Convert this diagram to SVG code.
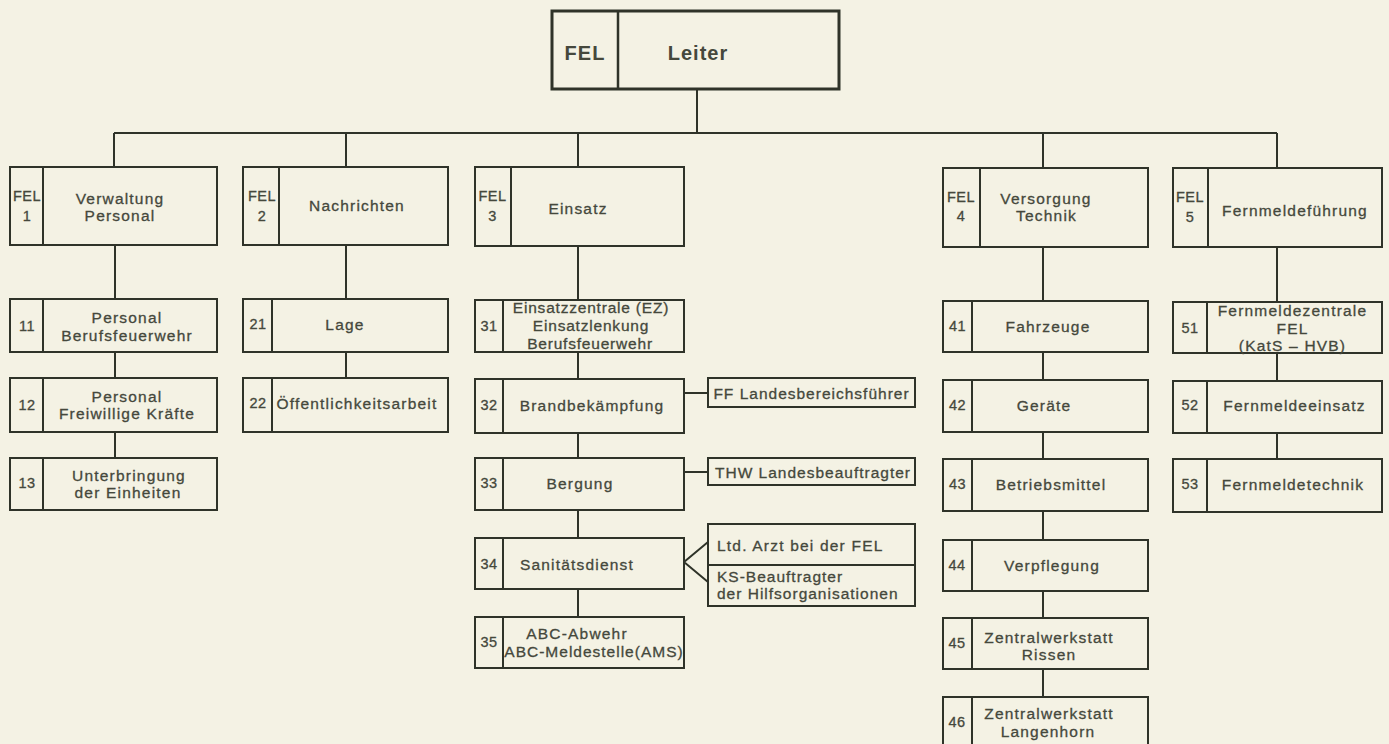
<svg xmlns="http://www.w3.org/2000/svg" width="1389" height="744" viewBox="0 0 1389 744">
<style>
.bg{fill:#f4f2e4}
.b{fill:none;stroke:#2f3329;stroke-width:2}
.bt{fill:none;stroke:#2f3329;stroke-width:3}
.d{stroke:#2f3329;stroke-width:2}
.c{fill:none;stroke:#2f3329;stroke-width:2}
text{font-family:"Liberation Sans",Arial,sans-serif;fill:#45483c;stroke:#45483c;stroke-width:0.3px}
.t{font-size:15.5px;letter-spacing:1.2px;text-anchor:middle}
.tl{font-size:15.5px;letter-spacing:1.2px}
.n{font-size:14.5px;letter-spacing:0.4px;text-anchor:middle}
.h{font-size:20px;font-weight:bold;letter-spacing:1px;text-anchor:middle;stroke-width:0}
</style>
<rect class="bg" x="0" y="0" width="1389" height="744"/>

<g id="connectors">
<path class="c" d="M697 89V133M114 133H1277M114 133V167M346 133V167M578 133V167M1043 133V168M1277 133V168"/>
<path class="c" d="M115 245V299M115 352V378M115 432V458"/>
<path class="c" d="M346 245V299M346 352V378"/>
<path class="c" d="M578 246V300M578 352V379M578 433V458M578 510V538M578 589V617"/>
<path class="c" d="M684 393H708M684 472H708M684 562L708 542M684 562L708 582"/>
<path class="c" d="M1043 247V301M1043 352V380M1043 432V459M1043 511V540M1043 591V618M1043 669V697"/>
<path class="c" d="M1277 247V302M1277 353V381M1277 433V459"/>
</g>

<g id="leiter">
<rect class="bt" x="552" y="11" width="287" height="78"/>
<line class="d" x1="618" y1="11" x2="618" y2="89" style="stroke-width:2.5"/>
<text class="h" x="585" y="60">FEL</text>
<text class="h" x="698" y="60">Leiter</text>
</g>

<g id="fel1">
<rect class="b" x="10" y="167" width="207" height="78"/>
<line class="d" x1="43" y1="167" x2="43" y2="245"/>
<text class="n" x="27" y="200.5">FEL</text>
<text class="n" x="27" y="220.5">1</text>
<text class="t" x="120" y="203.5">Verwaltung</text>
<text class="t" x="120" y="220.5">Personal</text>
</g>
<g id="n11">
<rect class="b" x="10" y="299" width="207" height="53"/>
<line class="d" x1="43" y1="299" x2="43" y2="352"/>
<text class="n" x="27" y="331">11</text>
<text class="t" x="127" y="322.5">Personal</text>
<text class="t" x="127" y="340.5">Berufsfeuerwehr</text>
</g>
<g id="n12">
<rect class="b" x="10" y="378" width="207" height="54"/>
<line class="d" x1="43" y1="378" x2="43" y2="432"/>
<text class="n" x="27" y="410">12</text>
<text class="t" x="127" y="401.5">Personal</text>
<text class="t" x="127" y="418.5">Freiwillige Kräfte</text>
</g>
<g id="n13">
<rect class="b" x="10" y="458" width="207" height="52"/>
<line class="d" x1="43" y1="458" x2="43" y2="510"/>
<text class="n" x="27" y="488">13</text>
<text class="t" x="129" y="480.5">Unterbringung</text>
<text class="t" x="128" y="497.5">der Einheiten</text>
</g>

<g id="fel2">
<rect class="b" x="243" y="167" width="205" height="78"/>
<line class="d" x1="279" y1="167" x2="279" y2="245"/>
<text class="n" x="262" y="200.5">FEL</text>
<text class="n" x="262" y="221">2</text>
<text class="t" x="357" y="210.5">Nachrichten</text>
</g>
<g id="n21">
<rect class="b" x="243" y="299" width="205" height="53"/>
<line class="d" x1="272" y1="299" x2="272" y2="352"/>
<text class="n" x="258" y="329">21</text>
<text class="t" x="345" y="329.5">Lage</text>
</g>
<g id="n22">
<rect class="b" x="243" y="378" width="205" height="54"/>
<line class="d" x1="272" y1="378" x2="272" y2="432"/>
<text class="n" x="258" y="408">22</text>
<text class="t" x="357" y="408.5">Öffentlichkeitsarbeit</text>
</g>

<g id="fel3">
<rect class="b" x="475" y="167" width="209" height="79"/>
<line class="d" x1="511" y1="167" x2="511" y2="246"/>
<text class="n" x="492.5" y="200.5">FEL</text>
<text class="n" x="492.5" y="220.5">3</text>
<text class="t" x="578" y="213.5">Einsatz</text>
</g>
<g id="n31">
<rect class="b" x="475" y="300" width="209" height="52"/>
<line class="d" x1="503" y1="300" x2="503" y2="352"/>
<text class="n" x="489" y="331">31</text>
<text class="t" x="591" y="313" style="letter-spacing:0.8px">Einsatzzentrale (EZ)</text>
<text class="t" x="591" y="331" style="letter-spacing:0.8px">Einsatzlenkung</text>
<text class="t" x="590" y="348.5" style="letter-spacing:0.8px">Berufsfeuerwehr</text>
</g>
<g id="n32">
<rect class="b" x="475" y="379" width="209" height="54"/>
<line class="d" x1="503" y1="379" x2="503" y2="433"/>
<text class="n" x="489" y="410">32</text>
<text class="t" x="592" y="410.5">Brandbekämpfung</text>
</g>
<g id="n33">
<rect class="b" x="475" y="458" width="209" height="52"/>
<line class="d" x1="503" y1="458" x2="503" y2="510"/>
<text class="n" x="489" y="488">33</text>
<text class="t" x="580" y="488.5">Bergung</text>
</g>
<g id="n34">
<rect class="b" x="475" y="538" width="209" height="51"/>
<line class="d" x1="503" y1="538" x2="503" y2="589"/>
<text class="n" x="489" y="569">34</text>
<text class="t" x="577" y="569.5">Sanitätsdienst</text>
</g>
<g id="n35">
<rect class="b" x="475" y="617" width="209" height="51"/>
<line class="d" x1="503" y1="617" x2="503" y2="668"/>
<text class="n" x="489" y="647">35</text>
<text class="t" x="577" y="638.5">ABC-Abwehr</text>
<text class="t" x="594" y="656.5" style="letter-spacing:1px">ABC-Meldestelle(AMS)</text>
</g>
<g id="ff">
<rect class="b" x="708" y="378" width="207" height="29"/>
<text class="t" x="811.5" y="398.5" style="letter-spacing:1px">FF Landesbereichsführer</text>
</g>
<g id="thw">
<rect class="b" x="708" y="458" width="207" height="27"/>
<text class="t" x="813" y="477.5" style="letter-spacing:1px">THW Landesbeauftragter</text>
</g>
<g id="arzt">
<rect class="b" x="708" y="524" width="207" height="82"/>
<line class="d" x1="708" y1="565" x2="915" y2="565"/>
<text class="tl" x="717" y="550.5">Ltd. Arzt bei der FEL</text>
<text class="tl" x="717" y="581.5" style="letter-spacing:1px">KS-Beauftragter</text>
<text class="tl" x="717" y="598.5" style="letter-spacing:1px">der Hilfsorganisationen</text>
</g>

<g id="fel4">
<rect class="b" x="943" y="168" width="205" height="79"/>
<line class="d" x1="980" y1="168" x2="980" y2="247"/>
<text class="n" x="961" y="202">FEL</text>
<text class="n" x="961" y="221">4</text>
<text class="t" x="1046" y="203.5">Versorgung</text>
<text class="t" x="1046.5" y="220.5">Technik</text>
</g>
<g id="n41">
<rect class="b" x="943" y="301" width="205" height="51"/>
<line class="d" x1="972" y1="301" x2="972" y2="352"/>
<text class="n" x="957.5" y="331">41</text>
<text class="t" x="1048" y="331.5">Fahrzeuge</text>
</g>
<g id="n42">
<rect class="b" x="943" y="380" width="205" height="52"/>
<line class="d" x1="972" y1="380" x2="972" y2="432"/>
<text class="n" x="957.5" y="410">42</text>
<text class="t" x="1044" y="410.5">Geräte</text>
</g>
<g id="n43">
<rect class="b" x="943" y="459" width="205" height="52"/>
<line class="d" x1="972" y1="459" x2="972" y2="511"/>
<text class="n" x="957.5" y="489">43</text>
<text class="t" x="1051" y="489.5">Betriebsmittel</text>
</g>
<g id="n44">
<rect class="b" x="943" y="540" width="205" height="51"/>
<line class="d" x1="972" y1="540" x2="972" y2="591"/>
<text class="n" x="957" y="570">44</text>
<text class="t" x="1052" y="570.5">Verpflegung</text>
</g>
<g id="n45">
<rect class="b" x="943" y="618" width="205" height="51"/>
<line class="d" x1="972" y1="618" x2="972" y2="669"/>
<text class="n" x="957" y="648">45</text>
<text class="t" x="1049" y="642.5">Zentralwerkstatt</text>
<text class="t" x="1049" y="659.5">Rissen</text>
</g>
<g id="n46">
<rect class="b" x="943" y="697" width="205" height="52"/>
<line class="d" x1="972" y1="697" x2="972" y2="749"/>
<text class="n" x="957" y="727">46</text>
<text class="t" x="1049" y="718.5">Zentralwerkstatt</text>
<text class="t" x="1048" y="736.5">Langenhorn</text>
</g>

<g id="fel5">
<rect class="b" x="1173" y="168" width="209" height="79"/>
<line class="d" x1="1208" y1="168" x2="1208" y2="247"/>
<text class="n" x="1190" y="202">FEL</text>
<text class="n" x="1190" y="222">5</text>
<text class="t" x="1295" y="215.5">Fernmeldeführung</text>
</g>
<g id="n51">
<rect class="b" x="1173" y="302" width="209" height="51"/>
<line class="d" x1="1207" y1="302" x2="1207" y2="353"/>
<text class="n" x="1190" y="333">51</text>
<text class="t" x="1292.5" y="315.5">Fernmeldezentrale</text>
<text class="t" x="1292.5" y="333.5">FEL</text>
<text class="t" x="1292.5" y="350.5">(KatS – HVB)</text>
</g>
<g id="n52">
<rect class="b" x="1173" y="381" width="209" height="52"/>
<line class="d" x1="1207" y1="381" x2="1207" y2="433"/>
<text class="n" x="1190" y="410">52</text>
<text class="t" x="1294.5" y="410.5">Fernmeldeeinsatz</text>
</g>
<g id="n53">
<rect class="b" x="1173" y="459" width="209" height="53"/>
<line class="d" x1="1207" y1="459" x2="1207" y2="512"/>
<text class="n" x="1190" y="489">53</text>
<text class="t" x="1293" y="489.5">Fernmeldetechnik</text>
</g>
</svg>
